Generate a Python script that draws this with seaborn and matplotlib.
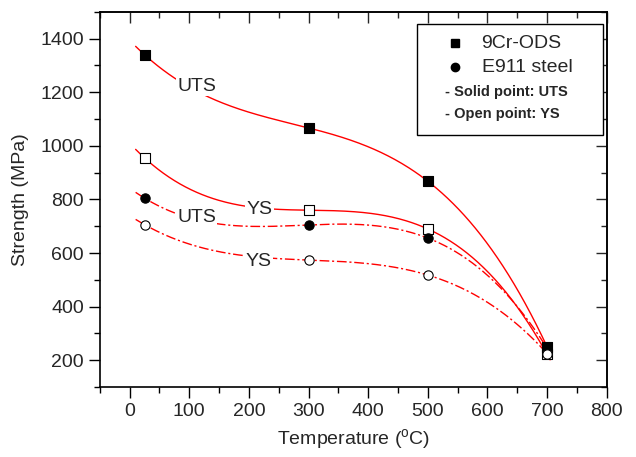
import numpy as np
import pandas as pd
import matplotlib
matplotlib.use("Agg")
import matplotlib.pyplot as plt
import seaborn as sns
from matplotlib.ticker import MultipleLocator
from matplotlib.patches import Rectangle

sns.set_theme(style="ticks")
plt.rcParams['font.family'] = ['Liberation Sans', 'DejaVu Sans']
plt.rcParams['mathtext.fontset'] = 'custom'
plt.rcParams['mathtext.rm'] = 'Liberation Sans'

temps = [25, 300, 500, 700]
ods_uts = [1340, 1067, 868, 250]
ods_ys = [955, 760, 690, 222]
e911_uts = [805, 705, 656, 245]
e911_ys = [706, 574, 518, 225]

series = [
    ("9Cr-ODS", "UTS", ods_uts),
    ("9Cr-ODS", "YS", ods_ys),
    ("E911 steel", "UTS", e911_uts),
    ("E911 steel", "YS", e911_ys),
]

rows = []
for mat, kind, vals in series:
    for t, v in zip(temps, vals):
        rows.append(dict(material=mat, kind=kind, T=t, S=v))
df = pd.DataFrame(rows)

fig, ax = plt.subplots(figsize=(6.36, 4.57), dpi=100)
fig.subplots_adjust(left=0.157, right=0.954, top=0.974, bottom=0.153)

# fitted curves (cubic fit through the data)
xs = np.linspace(10, 705, 300)
for mat, kind, vals in series:
    coef = np.polyfit(temps, vals, 3)
    fit = pd.DataFrame(dict(T=xs, S=np.polyval(coef, xs)))
    ls = '-' if mat == "9Cr-ODS" else (0, (7, 2, 1.5, 2))
    sns.lineplot(data=fit, x="T", y="S", ax=ax, color="red", lw=1.0,
                 linestyle=ls, sort=False, zorder=2)

# markers
for mat, kind, vals in series:
    sub = df[(df.material == mat) & (df.kind == kind)]
    marker = 's' if mat == "9Cr-ODS" else 'o'
    face = 'black' if kind == "UTS" else 'white'
    sns.scatterplot(data=sub, x="T", y="S", ax=ax, marker=marker, s=45,
                    facecolor=face, edgecolor='black', linewidth=0.8, zorder=3)

# curve labels
lab_kw = dict(fontsize=14, ha='center', va='center', zorder=4,
              bbox=dict(facecolor='white', edgecolor='none', pad=1.0))
ax.text(112, 1222, "UTS", **lab_kw)
ax.text(218, 763, "YS", **lab_kw)
ax.text(112, 732, "UTS", **lab_kw)
ax.text(216, 568, "YS", **lab_kw)

ax.set_xlim(-50, 800)
ax.set_ylim(100, 1500)
ax.xaxis.set_minor_locator(MultipleLocator(50))
ax.yaxis.set_minor_locator(MultipleLocator(100))
ax.set_xticks(np.arange(0, 801, 100))
ax.set_yticks(np.arange(200, 1401, 200))
ax.tick_params(which='major', direction='out', length=8, width=1, labelsize=14, color='black')
ax.tick_params(which='minor', direction='out', length=4, width=1, color='black')
for sp in ax.spines.values():
    sp.set_visible(True)
    sp.set_linewidth(1.2)
    sp.set_color('black')

# top / right inward ticks
top = ax.secondary_xaxis('top')
top.xaxis.set_major_locator(MultipleLocator(100))
top.xaxis.set_minor_locator(MultipleLocator(50))
top.tick_params(which='major', direction='in', length=8, width=1, labeltop=False)
top.tick_params(which='minor', direction='in', length=4, width=1)
right = ax.secondary_yaxis('right')
right.yaxis.set_major_locator(MultipleLocator(200))
right.yaxis.set_minor_locator(MultipleLocator(100))
right.tick_params(which='major', direction='in', length=8, width=1, labelright=False)
right.tick_params(which='minor', direction='in', length=4, width=1)

ax.set_xlabel(r"Temperature ($^{\mathrm{o}}$C)", fontsize=14, labelpad=5)
ax.set_ylabel("Strength (MPa)", fontsize=14, labelpad=8)

# legend box
ax.add_patch(Rectangle((0.625, 0.672), 0.367, 0.296, transform=ax.transAxes,
                       facecolor='white', edgecolor='black', lw=1.0, zorder=5))
ax.plot([0.700], [0.917], 's', color='black', ms=5.5, transform=ax.transAxes, zorder=6)
ax.plot([0.700], [0.853], 'o', color='black', ms=6, transform=ax.transAxes, zorder=6)
ax.text(0.753, 0.917, "9Cr-ODS", transform=ax.transAxes, fontsize=14, va='center', zorder=6)
ax.text(0.753, 0.853, "E911 steel", transform=ax.transAxes, fontsize=14, va='center', zorder=6)
ax.text(0.680, 0.787, "- Solid point: UTS", transform=ax.transAxes, fontsize=10.5,
        fontweight='bold', va='center', zorder=6)
ax.text(0.680, 0.728, "- Open point: YS", transform=ax.transAxes, fontsize=10.5,
        fontweight='bold', va='center', zorder=6)

fig.savefig("out.png", dpi=100)
